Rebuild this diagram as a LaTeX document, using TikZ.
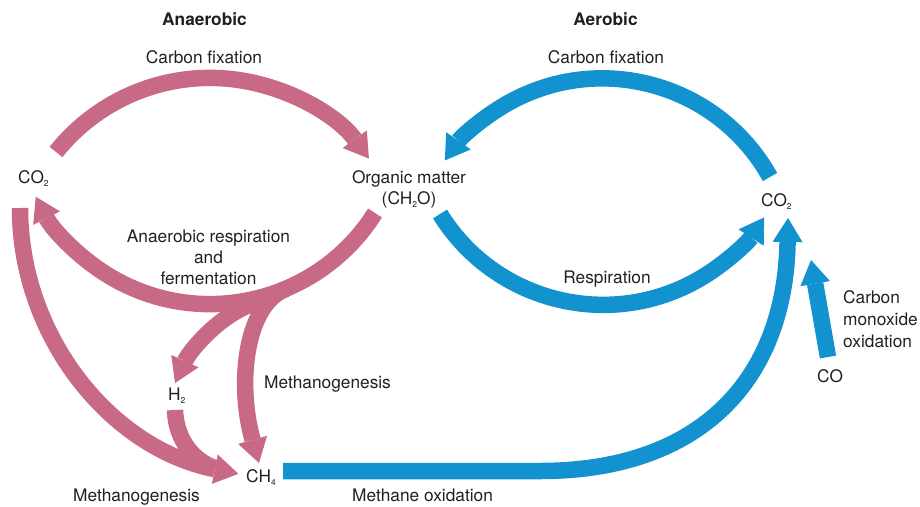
\documentclass[tikz,border=0pt]{standalone}
\usepackage{fontspec}
\setmainfont{TeX Gyre Heros}
\usetikzlibrary{arrows.meta}
\definecolor{pinkc}{RGB}{200,106,133}
\definecolor{bluec}{RGB}{18,147,207}
\definecolor{txtc}{RGB}{35,31,32}
\newcommand{\mysub}[1]{\raisebox{-3.5pt}{\fontsize{8.5}{8.5}\selectfont #1}}
\begin{document}
\begin{tikzpicture}[x=1pt,y=-1pt,
  lbl/.style={inner sep=0pt, text=txtc, font=\fontsize{17.3}{21}\selectfont},
  lblb/.style={lbl, font=\fontsize{17.3}{21}\selectfont\bfseries},
  tipstyle/.style={-{Triangle[width=30pt,length=24pt,line width=0pt]}},
  pinkarr/.style={draw=pinkc, line width=16.5pt, tipstyle},
  bluearr/.style={draw=bluec, line width=16.5pt, tipstyle},
  pinkline/.style={draw=pinkc, line width=16.5pt}]
\useasboundingbox (0,0) rectangle (920,506);
% labels
\node[lblb, anchor=base] (anaer) at (204.5,25) {Anaerobic};
\node[lblb, anchor=base] (aer) at (605.5,25) {Aerobic};
\node[lbl, anchor=base] (cfL) at (204,63) {Carbon fixation};
\node[lbl, anchor=base] (cfR) at (606,63) {Carbon fixation};
\node[lbl, anchor=base west] (co2L) at (18,183) {CO\mysub{2}};
\node[lbl, anchor=base] (org) at (409,183) {\begin{tabular}[t]{@{}c@{}}Organic matter\\(CH\mysub{2}O)\end{tabular}};
\node[lbl, anchor=base west] (co2R) at (761,206) {CO\mysub{2}};
\node[lbl, anchor=base] (anresp) at (208.5,242) {\begin{tabular}[t]{@{}c@{}}Anaerobic respiration\\and\\fermentation\end{tabular}};
\node[lbl, anchor=base] (resp) at (607,283) {Respiration};
\node[lbl, anchor=base west, font=\fontsize{17.3}{22}\selectfont] (coox) at (843,303) {\begin{tabular}[t]{@{}l@{}}Carbon\\monoxide\\oxidation\end{tabular}};
\node[lbl, anchor=base west] (co) at (817,382) {CO};
\node[lbl, anchor=base west] (h2) at (168,400) {H\mysub{2}};
\node[lbl, anchor=base west] (methM) at (264,388) {Methanogenesis};
\node[lbl, anchor=base west] (ch4) at (246,482) {CH\mysub{4}};
\node[lbl, anchor=base west] (methB) at (73,501) {Methanogenesis};
\node[lbl, anchor=base west] (methox) at (352,501) {Methane oxidation};
% pink (anaerobic) connectors
\draw[pinkarr] ([shift={(38,-31)}]co2L.base west) arc[start angle=-141.4, end angle=-36.2, radius=197];
\draw[pinkarr] ([shift={(-34,30)}]org.base) arc[start angle=32.2, end angle=153.3, radius=195];
\draw[pinkarr] ([shift={(2,25)}]co2L.base west) arc[start angle=180, end angle=101.2, radius=271];
\draw[pinkline] ([shift={(7,10)}]h2.base west) .. controls +(1,32) and +(-19,-6) .. ([shift={(-31,-14)}]ch4.base west);
\draw[pinkarr] ([shift={(-151,119)}]org.base) .. controls (222,312) and (190,350) .. ([shift={(7,-17)}]h2.base west);
\draw[pinkarr] ([shift={(-123,106)}]org.base) .. controls (247,303) and (236,380) .. ([shift={(13,-19)}]ch4.base west);
% blue (aerobic) connectors
\draw[bluearr] ([shift={(9,-29)}]co2R.base west) arc[start angle=-29.1, end angle=-145.1, radius=192];
\draw[bluearr] ([shift={(31,31)}]org.base) arc[start angle=148.2, end angle=33, radius=192];
\draw[bluearr] ([shift={(37,-11)}]ch4.base west) -- (540,471) .. controls (700,471) and (785,380) .. ([shift={(27,12)}]co2R.base west);
\draw[bluearr] ([shift={(11,-25)}]co.base west) -- ([shift={(50,54)}]co2R.base west);
\end{tikzpicture}
\end{document}
